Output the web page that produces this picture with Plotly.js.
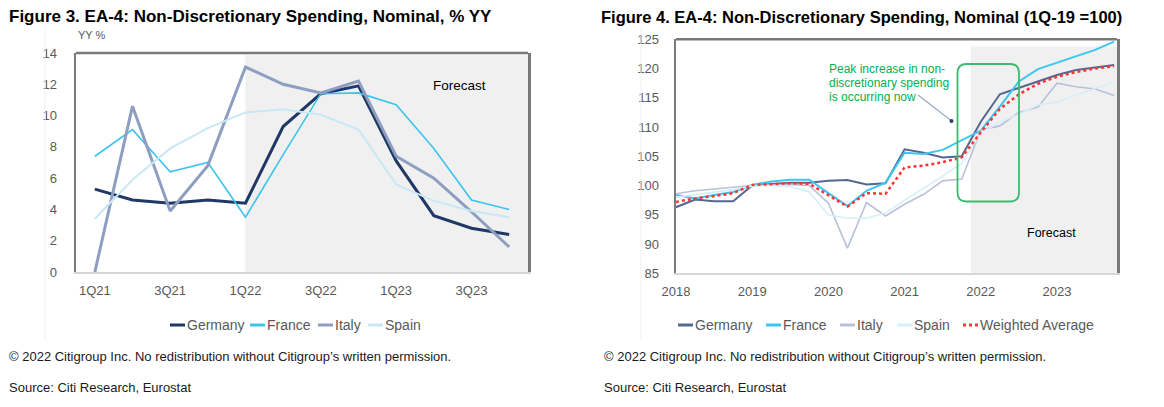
<!DOCTYPE html>
<html><head><meta charset="utf-8">
<script src="https://cdn.plot.ly/plotly-3.0.1.min.js"></script>
<style>html,body{margin:0;padding:0;background:#fff}#chart{width:1164px;height:407px}</style>
</head><body><div id="chart"></div>
<script>
// ---------- Figure 3 data (% YY) ----------
const quartersL = ['1Q21','2Q21','3Q21','4Q21','1Q22','2Q22','3Q22','4Q22','1Q23','2Q23','3Q23','4Q23'];
const tickValsL = ['1Q21','3Q21','1Q22','3Q22','1Q23','3Q23'];
const germanyYY = [5.3, 4.6, 4.4, 4.6, 4.4, 9.3, 11.4, 11.9, 7.1, 3.6, 2.8, 2.4];
const franceYY  = [7.4, 9.1, 6.4, 7.0, 3.5, 7.5, 11.4, 11.45, 10.7, 7.9, 4.6, 4.0];
const italyYY   = [0.0, 10.6, 3.9, 6.8, 13.1, 12.0, 11.45, 12.2, 7.4, 6.0, 3.85, 1.6];
const spainYY   = [3.4, 5.9, 7.9, 9.2, 10.2, 10.4, 10.05, 9.1, 5.6, 4.55, 3.9, 3.5];
const namesL = ['Germany','France','Italy','Spain'];

// ---------- Figure 4 data (1Q-19 = 100) ----------
const quartersR = ['1Q18','2Q18','3Q18','4Q18','1Q19','2Q19','3Q19','4Q19','1Q20','2Q20','3Q20','4Q20',
                   '1Q21','2Q21','3Q21','4Q21','1Q22','2Q22','3Q22','4Q22','1Q23','2Q23','3Q23','4Q23'];
const tickValsR = ['1Q18','1Q19','1Q20','1Q21','1Q22','1Q23'];
const tickTextR = ['2018','2019','2020','2021','2022','2023'];
const germanyIdx  = [96.3, 97.6, 97.3, 97.3, 100.0, 100.3, 100.5, 100.5, 100.8, 100.95, 100.2, 100.4,
                     106.2, 105.6, 104.8, 105.0, 110.9, 115.6, 116.7, 117.9, 118.9, 119.75, 120.2, 120.6];
const franceIdx   = [98.4, 97.8, 98.4, 98.9, 100.1, 100.7, 101.0, 101.0, 98.7, 96.5, 99.1, 100.5,
                     105.6, 105.4, 106.1, 107.8, 109.4, 113.5, 117.8, 119.9, 121.0, 122.0, 123.2, 124.6];
const italyIdx    = [98.6, 99.1, 99.4, 99.7, 100.0, 100.1, 100.2, 100.0, 97.0, 89.3, 97.1, 94.8,
                     96.8, 98.5, 100.8, 101.1, 109.5, 110.2, 112.5, 113.4, 117.5, 116.9, 116.5, 115.4];
const spainIdx    = [98.0, 98.4, 98.9, 99.3, 99.9, 100.0, 99.8, 98.9, 95.0, 94.4, 94.4, 95.3,
                     97.5, 99.5, 101.6, 103.8, 109.0, 110.8, 112.2, 113.8, 114.3, 115.5, 116.6, 117.7];
const weightedIdx = [97.2, 97.8, 98.2, 98.7, 100.1, 100.3, 100.4, 100.3, 98.4, 96.4, 98.7, 98.6,
                     103.1, 103.4, 104.0, 104.8, 109.1, 113.1, 115.6, 117.4, 118.6, 119.4, 120.0, 120.4];
const namesR = ['Germany','France','Italy','Spain','Weighted Average'];

// ---------- styling ----------
const FONT = '"Liberation Sans", Arial, sans-serif';
const W = 1164, H = 407;
const px = x => x / W;
const py = y => 1 - y / H;
const colL = ['#1f3864', '#3ec3ee', '#8e9ec0', '#c8e8f5'];
const widL = [3, 1.6, 3, 2];
const colR = ['#55688f', '#3cc6f2', '#b9c1d8', '#d6eef9', '#ff3333'];
const widR = [2, 2, 1.6, 1.6, 2.5];
const dashR = ['solid','solid','solid','solid','dot'];

const seriesL = [germanyYY, franceYY, italyYY, spainYY];
const seriesR = [germanyIdx, franceIdx, italyIdx, spainIdx, weightedIdx];

const traces = [];
seriesL.forEach((s, i) => traces.push({
  type:'scatter', mode:'lines', x: quartersL, y: s, name: namesL[i], xaxis:'x', yaxis:'y',
  line:{color: colL[i], width: widL[i]}, showlegend:false, hoverinfo:'x+y+name'
}));
seriesR.forEach((s, i) => traces.push({
  type:'scatter', mode:'lines', x: quartersR, y: s, name: namesR[i], xaxis:'x2', yaxis:'y2',
  line:{color: colR[i], width: widR[i], dash: dashR[i]}, showlegend:false, hoverinfo:'x+y+name'
}));

const tickFont = {family: FONT, size: 13, color:'#595959'};
const frame = '#7a7a7a';

const annotations = [];
const shapes = [];
function txt(text, x, y, opts) {
  annotations.push(Object.assign({text, x: px(x), y: py(y), xref:'paper', yref:'paper',
    showarrow:false, xanchor:'left', yanchor:'middle',
    font:{family: FONT, size: 13, color:'#1a1a1a'}}, opts || {}));
}
// titles
txt('<b>Figure 3. EA-4: Non-Discretionary Spending, Nominal, % YY</b>', 7, 17, {font:{family:FONT, size:17, color:'#000'}});
txt('<b>Figure 4. EA-4: Non-Discretionary Spending, Nominal (1Q-19 =100)</b>', 599, 17, {font:{family:FONT, size:16.5, color:'#000'}});
// axis unit
txt('YY %', 76, 35, {font:{family:FONT, size:11, color:'#595959'}});
// forecast labels
txt('Forecast', 459, 85, {xanchor:'center', font:{family:FONT, size:13.5, color:'#000'}});
txt('Forecast', 1051, 233, {xanchor:'center', font:{family:FONT, size:12.5, color:'#000'}});
// green annotation
txt('Peak increase in non-', 827, 69, {font:{family:FONT, size:12, color:'#00b050'}});
txt('discretionary spending', 827, 83, {font:{family:FONT, size:12, color:'#00b050'}});
txt('is occurring now', 827, 97.5, {font:{family:FONT, size:12, color:'#00b050'}});
// footers
const copyTxt = '\u00a9 2022 Citigroup Inc. No redistribution without Citigroup\u2019s written permission.';
const srcTxt = 'Source: Citi Research, Eurostat';
txt(copyTxt, 7, 356, {font:{family:FONT, size:13, color:'#1a1a1a'}});
txt(copyTxt, 602, 356, {font:{family:FONT, size:13, color:'#1a1a1a'}});
txt(srcTxt, 7, 387, {font:{family:FONT, size:13, color:'#1a1a1a'}});
txt(srcTxt, 602, 387, {font:{family:FONT, size:13, color:'#1a1a1a'}});

// manual legends (short line keys as in the reference)
const legY = 325;
const legL = [170, 250, 318, 368];
const legR = [678, 766, 840, 897, 963];
function legendItem(name, color, dash, x0) {
  shapes.push({type:'line', xref:'paper', yref:'paper', x0: px(x0), x1: px(x0 + 15), y0: py(legY), y1: py(legY),
    line:{color, width: 3, dash: dash === 'dot' ? 'dot' : 'solid'}});
  txt(name, x0 + 15, legY, {font:{family:FONT, size:14, color:'#595959'}});
}
namesL.forEach((n, i) => legendItem(n, colL[i], 'solid', legL[i]));
namesR.forEach((n, i) => legendItem(n, colR[i], dashR[i], legR[i]));

// forecast shading
shapes.push({type:'rect', xref:'x', yref:'y', x0: 4, x1: 11.5, y0: 0, y1: 13.86,
  fillcolor:'#f0f0f0', line:{width:0}, layer:'below'});
shapes.push({type:'rect', xref:'x2', yref:'y2', x0: 15.47, x1: 23.15, y0: 85, y1: 123.8,
  fillcolor:'#f0f0f0', line:{width:0}, layer:'below'});
// top frame lines
shapes.push({type:'line', xref:'x domain', yref:'y domain', x0:0, x1:1, y0:1, y1:1, line:{color:frame, width:2.5}});
shapes.push({type:'line', xref:'x2 domain', yref:'y2 domain', x0:0, x1:1, y0:1, y1:1, line:{color:frame, width:2.5}});
// green rounded box
(function(){
  const x0 = 957.5, x1 = 1019, y0 = 64, y1 = 201.5, r = 9;
  const X = v => px(v), Y = v => py(v);
  const p = `M ${X(x0+r)},${Y(y0)} L ${X(x1-r)},${Y(y0)} Q ${X(x1)},${Y(y0)} ${X(x1)},${Y(y0+r)} ` +
            `L ${X(x1)},${Y(y1-r)} Q ${X(x1)},${Y(y1)} ${X(x1-r)},${Y(y1)} ` +
            `L ${X(x0+r)},${Y(y1)} Q ${X(x0)},${Y(y1)} ${X(x0)},${Y(y1-r)} ` +
            `L ${X(x0)},${Y(y0+r)} Q ${X(x0)},${Y(y0)} ${X(x0+r)},${Y(y0)} Z`;
  shapes.push({type:'path', xref:'paper', yref:'paper', path:p, line:{color:'#3dbb6c', width:1.8}});
})();
// pointer line + dot
shapes.push({type:'line', xref:'paper', yref:'paper', x0:px(918), y0:py(95), x1:px(951), y1:py(120.5), line:{color:'#9aa6c2', width:1.2}});
shapes.push({type:'circle', xref:'paper', yref:'paper', x0:px(949.5), x1:px(953.5), y0:py(119), y1:py(123), fillcolor:'#2a3f6e', line:{width:0}});
// faint panel separators
shapes.push({type:'line', xref:'paper', yref:'paper', x0:px(45), x1:px(45), y0:py(26), y1:py(340), line:{color:'#f0f0f0', width:1}});
shapes.push({type:'line', xref:'paper', yref:'paper', x0:px(641), x1:px(641), y0:py(26), y1:py(340), line:{color:'#f0f0f0', width:1}});

const layout = {
  width: W, height: H, margin:{l:0, r:0, t:0, b:0},
  paper_bgcolor:'#ffffff', plot_bgcolor:'rgba(0,0,0,0)',
  font:{family: FONT, size: 13, color:'#595959'},
  showlegend:false,
  xaxis:{domain:[px(76), px(528)], anchor:'y', type:'category', range:[-0.5, 11.5],
    tickmode:'array', tickvals: tickValsL, ticktext: tickValsL, showgrid:false, zeroline:false,
    showline:true, linecolor:'#d6d6d6', linewidth:1.5, ticks:'', tickfont: tickFont, ticklabelstandoff: 6, fixedrange:true},
  yaxis:{domain:[py(272), py(53)], anchor:'x', range:[0, 14], tick0:0, dtick:2, showgrid:false, zeroline:false,
    showline:true, mirror:true, linecolor: frame, linewidth:2.5, ticks:'', tickfont: tickFont, ticklabelstandoff: 14, fixedrange:true},
  xaxis2:{domain:[px(676), px(1117)], anchor:'y2', type:'category', range:[0, 23.15],
    tickmode:'array', tickvals: tickValsR, ticktext: tickTextR, showgrid:false, zeroline:false,
    showline:true, linecolor:'#d6d6d6', linewidth:1.5, ticks:'', tickfont: tickFont, ticklabelstandoff: 6, fixedrange:true},
  yaxis2:{domain:[py(273.3), py(39.3)], anchor:'x2', range:[85, 125], tick0:85, dtick:5, showgrid:false, zeroline:false,
    showline:true, mirror:true, linecolor: frame, linewidth:2.5, ticks:'', tickfont: tickFont, ticklabelstandoff: 12, fixedrange:true},
  annotations, shapes
};
Plotly.newPlot('chart', traces, layout, {displayModeBar:false, staticPlot:true});
</script>
</body></html>
